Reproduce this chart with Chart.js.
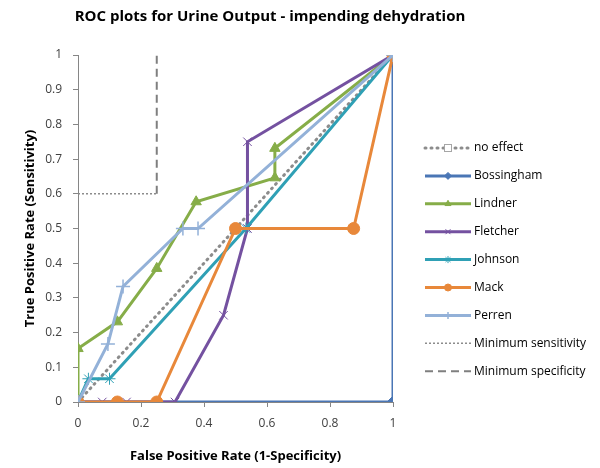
<!DOCTYPE html>
<html>
<head>
<meta charset="utf-8">
<script src="https://cdn.jsdelivr.net/npm/chart.js@4"></script>
<style>
  html, body { margin: 0; padding: 0; background: #fff; }
  #wrap { width: 600px; height: 468px; }
</style>
</head>
<body>
<div id="wrap"><canvas id="roc" width="600" height="468"></canvas></div>
<script>
// ── Data (FPR = x, TPR = y) ───────────────────────────────
const NO_EFFECT_X  = [0, 1];
const NO_EFFECT_Y  = [0, 1];
const BOSSINGHAM_X = [0, 1, 1];
const BOSSINGHAM_Y = [0, 0, 1];
const LINDNER_X    = [0, 0, 0.125, 0.25, 0.375, 0.625, 0.625, 1];
const LINDNER_Y    = [0, 0.154, 0.231, 0.385, 0.577, 0.646, 0.731, 1];
const FLETCHER_X   = [0, 0.077, 0.154, 0.308, 0.462, 0.538, 0.538, 1];
const FLETCHER_Y   = [0, 0, 0, 0, 0.25, 0.5, 0.75, 1];
const JOHNSON_X    = [0, 0.033, 0.1, 0.533, 1];
const JOHNSON_Y    = [0, 0.067, 0.067, 0.5, 1];
const MACK_X       = [0, 0.125, 0.25, 0.5, 0.875, 1];
const MACK_Y       = [0, 0, 0, 0.5, 0.5, 1];
const PERREN_X     = [0, 0.095, 0.143, 0.333, 0.381, 1];
const PERREN_Y     = [0, 0.167, 0.333, 0.5, 0.5, 1];
const MIN_SENS_X   = [0, 0.25];
const MIN_SENS_Y   = [0.6, 0.6];
const MIN_SPEC_X   = [0.25, 0.25];
const MIN_SPEC_Y   = [0.6, 1];

const X_TICKS = [0, 0.2, 0.4, 0.6, 0.8, 1];
const Y_TICKS = [0, 0.1, 0.2, 0.3, 0.4, 0.5, 0.6, 0.7, 0.8, 0.9, 1];

const pts = (xs, ys) => xs.map((x, i) => ({ x, y: ys[i] }));

// ── Series styles ─────────────────────────────────────────
const SERIES = [
  { label: 'no effect',   data: pts(NO_EFFECT_X, NO_EFFECT_Y),   color: '#8c8c8c', width: 3, dash: [1, 5], cap: 'round', point: false, legendPoint: 'rect' },
  { label: 'Bossingham',  data: pts(BOSSINGHAM_X, BOSSINGHAM_Y), color: '#4a76b5', width: 3, point: 'rectRot', radius: 6 },
  { label: 'Lindner',     data: pts(LINDNER_X, LINDNER_Y),       color: '#86ad48', width: 3, point: 'triangle', radius: 6 },
  { label: 'Fletcher',    data: pts(FLETCHER_X, FLETCHER_Y),     color: '#7451a0', width: 3, point: 'crossRot', radius: 6, pointWidth: 1 },
  { label: 'Johnson',     data: pts(JOHNSON_X, JOHNSON_Y),       color: '#2fa0b5', width: 3, point: 'star', radius: 6, pointWidth: 1 },
  { label: 'Mack',        data: pts(MACK_X, MACK_Y),             color: '#e8883a', width: 3, point: 'circle', radius: 6 },
  { label: 'Perren',      data: pts(PERREN_X, PERREN_Y),         color: '#93b1d8', width: 3, point: 'cross', radius: 7, pointWidth: 1.5 },
  { label: 'Minimum sensitivity', data: pts(MIN_SENS_X, MIN_SENS_Y), color: '#8c8c8c', width: 1.5, dash: [2, 2], point: false },
  { label: 'Minimum specificity', data: pts(MIN_SPEC_X, MIN_SPEC_Y), color: '#7f7f7f', width: 2, dash: [8, 5], point: false }
];

const datasets = SERIES.map((s, i) => ({
  label: s.label,
  data: s.data,
  borderColor: s.color,
  backgroundColor: s.color,
  borderWidth: s.width,
  borderDash: s.dash || [],
  borderCapStyle: s.cap || 'butt',
  pointStyle: s.point || 'circle',
  pointRadius: s.point ? s.radius : 0,
  pointBorderWidth: s.pointWidth || 1,
  pointHoverRadius: 0,
  showLine: true,
  tension: 0,
  order: SERIES.length - i
}));

// ── Title + legend drawn on canvas ────────────────────────
const FONT = "'Open Sans', 'Liberation Sans', sans-serif";

const extras = {
  id: 'extras',
  afterDraw(chart) {
    const ctx = chart.ctx;
    ctx.save();
    ctx.fillStyle = '#000';
    ctx.font = `bold 15px ${FONT}`;
    ctx.textAlign = 'center';
    ctx.textBaseline = 'middle';
    ctx.fillText('ROC plots for Urine Output - impending dehydration', 270, 17);

    // legend
    const x0 = 425, x1 = 471, yStart = 148, step = 27.9;
    SERIES.forEach((s, i) => {
      const y = yStart + i * step;
      ctx.strokeStyle = s.color;
      ctx.lineWidth = s.width;
      ctx.setLineDash(s.dash || []);
      ctx.lineCap = s.cap || 'butt';
      ctx.beginPath();
      ctx.moveTo(x0, y);
      ctx.lineTo(x1, y);
      ctx.stroke();
      ctx.setLineDash([]);
      ctx.lineCap = 'butt';
      if (s.legendPoint === 'rect') {
        ctx.fillStyle = '#fff';
        ctx.fillRect(x0 + 19, y - 4, 8, 8);
        ctx.strokeStyle = '#a6a6a6';
        ctx.lineWidth = 1;
        ctx.strokeRect(x0 + 19.5, y - 3.5, 7, 7);
      } else if (s.point) {
        ctx.fillStyle = s.color;
        ctx.strokeStyle = s.color;
        ctx.lineWidth = s.pointWidth || 1;
        Chart.helpers.drawPoint(ctx, {
          pointStyle: s.point, radius: 3.5, rotation: 0, borderWidth: s.pointWidth || 1
        }, (x0 + x1) / 2, y);
      }
      ctx.fillStyle = '#000';
      ctx.font = `12px ${FONT}`;
      ctx.textAlign = 'left';
      ctx.fillText(s.label, x1 + 3, y);
    });
    ctx.restore();
  }
};

new Chart(document.getElementById('roc'), {
  type: 'scatter',
  data: { datasets },
  plugins: [extras],
  options: {
    responsive: false,
    animation: false,
    layout: { padding: { top: 55, right: 207, bottom: 0, left: 18 } },
    plugins: {
      legend: { display: false },
      tooltip: { enabled: false },
      title: { display: false }
    },
    scales: {
      x: {
        type: 'linear', min: 0, max: 1,
        afterBuildTicks: s => { s.ticks = X_TICKS.map(v => ({ value: v })); },
        afterFit: s => { s.height = 66; },
        grid: { drawOnChartArea: false, color: '#868686', tickLength: 5 },
        border: { color: '#868686', width: 1 },
        ticks: { color: '#404040', font: { family: FONT, size: 12 }, padding: 9, callback: v => String(v) },
        title: { display: true, text: 'False Positive Rate (1-Specificity)', color: '#000',
                 font: { family: FONT, size: 13, weight: 'bold' }, padding: { top: 3 } }
      },
      y: {
        type: 'linear', min: 0, max: 1,
        afterBuildTicks: s => { s.ticks = Y_TICKS.map(v => ({ value: v })); },
        afterFit: s => { s.width = 60; },
        grid: { drawOnChartArea: false, color: '#868686', tickLength: 5 },
        border: { color: '#868686', width: 1 },
        ticks: { color: '#404040', font: { family: FONT, size: 12 }, padding: 11, callback: v => String(v) },
        title: { display: true, text: 'True Positive Rate (Sensitivity)', color: '#000',
                 font: { family: FONT, size: 13, weight: 'bold' }, padding: { bottom: 4 } }
      }
    }
  }
});
</script>
</body>
</html>
